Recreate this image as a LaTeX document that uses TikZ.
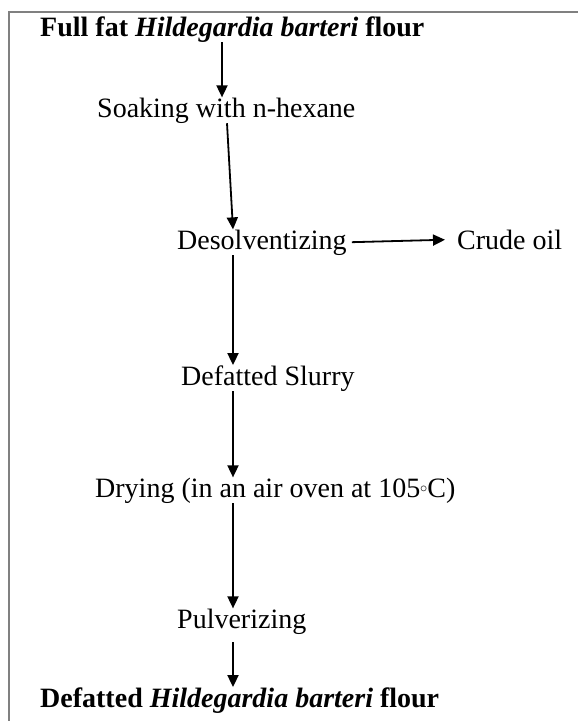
\documentclass[tikz,border=0pt]{standalone}
\usepackage{fontspec}
\setmainfont{Liberation Serif}
\usetikzlibrary{arrows.meta}
\begin{document}
\begin{tikzpicture}[x=1pt,y=-1pt,
  stage/.style={anchor=base west, inner sep=0pt, font=\fontsize{28}{32}\selectfont},
  flow/.style={-{Triangle[length=12pt,width=11pt]}, line width=1.8pt}]
\definecolor{FrameGray}{RGB}{128,128,128}
\useasboundingbox (0,0) rectangle (578,721);
\draw[FrameGray, line width=2.5pt] (9,721) -- (9,12) -- (578,12);
\node[stage] (flour) at (40,36) {\textbf{Full fat \textit{Hildegardia barteri} flour}};
\node[stage] (soak) at (97,117) {Soaking with n-hexane};
\node[stage] (desolv) at (177,249) {Desolventizing};
\node[stage] (crude) at (457,249) {Crude oil};
\node[stage] (slurry) at (181,385) {Defatted Slurry};
\node[stage] (dry) at (95,497) {Drying (in an air oven at 105\raisebox{5pt}{\fontsize{14}{14}\selectfont$\circ$}C)};
\node[stage] (pulv) at (177,628) {Pulverizing};
\node[stage] (defat) at (40,707) {\textbf{Defatted \textit{Hildegardia barteri} flour}};
\coordinate (col1) at (222,0);
\coordinate (col2) at (227,0);
\coordinate (spine) at (233,0);
\draw[flow] (flour.south -| col1) -- (soak.north -| col1);
\draw[flow] (soak.south -| col2) -- (desolv.north -| spine);
\draw[flow, shorten <=5pt, shorten >=12pt] (desolv.east) -- (crude.west);
\draw[flow] (desolv.south -| spine) -- (slurry.north -| spine);
\draw[flow] (slurry.south -| spine) -- (dry.north -| spine);
\draw[flow] (dry.south -| spine) -- (pulv.north -| spine);
\draw[flow, shorten <=8pt] (pulv.south -| spine) -- (defat.north -| spine);
\end{tikzpicture}
\end{document}
